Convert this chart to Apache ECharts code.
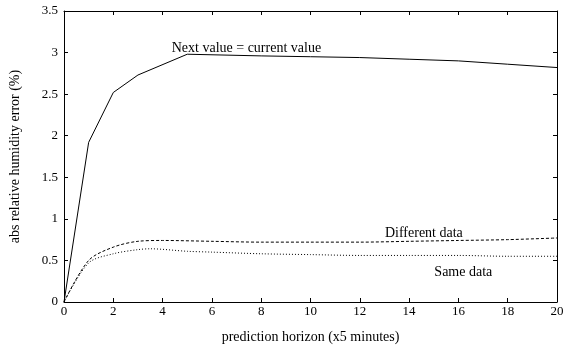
<!DOCTYPE html>
<html>
<head>
<meta charset="UTF-8">
<title>prediction horizon</title>
<style>
    body {margin: 0; background: #fff;}
    #chart {width: 573px; height: 349px;}
</style>
</head>
<body>
<div id="chart"></div>
<script src="https://cdn.jsdelivr.net/npm/echarts@6/dist/echarts.min.js"></script>
<script>
// horizon steps (x5 minutes) and the three error curves
const nextX   = [0, 1, 2, 3, 5, 8, 10, 12, 14, 16, 18, 20];
const nextY   = [0, 1.92, 2.52, 2.73, 2.98, 2.96, 2.95, 2.94, 2.92, 2.90, 2.86, 2.82];
const diffX   = [0, 1, 2, 3, 4, 6, 8, 10, 12, 14, 16, 18, 20];
const diffY   = [0, 0.50, 0.66, 0.73, 0.74, 0.73, 0.72, 0.72, 0.72, 0.73, 0.74, 0.75, 0.77];
const sameX   = [0, 1, 2, 3, 3.5, 5, 6, 8, 10, 12, 14, 16, 18, 20];
const sameY   = [0, 0.47, 0.58, 0.63, 0.64, 0.61, 0.60, 0.58, 0.57, 0.56, 0.56, 0.56, 0.55, 0.55];
const xTicks  = [0, 20, 2];
const yTicks  = [0, 3.5, 0.5];

const font = 'Liberation Serif';

function pairs(xs, ys) {
    return xs.map((x, i) => [x, ys[i]]);
}

function note(text, x, y, pos) {
    return {
        coord: [x, y],
        symbol: 'circle',
        symbolSize: 0,
        itemStyle: {color: 'transparent'},
        label: {show: true, formatter: text, position: pos, distance: 4,
                color: '#000', fontFamily: font, fontSize: 14}
    };
}

const chart = echarts.init(document.getElementById('chart'));

function axisCommon() {
    return {
        axisLine: {show: true, onZero: false, lineStyle: {color: '#000', width: 1}},
        axisTick: {show: true, inside: true, length: 4, lineStyle: {color: '#000'}},
        splitLine: {show: false}
    };
}

chart.setOption({
    animation: false,
    grid: {left: 64, right: 16, top: 11, bottom: 47, outerBoundsMode: 'none', containLabel: false},
    xAxis: [
        Object.assign({type: 'value', min: xTicks[0], max: xTicks[1], interval: xTicks[2],
            name: 'prediction horizon (x5 minutes)', nameLocation: 'middle', nameGap: 28,
            nameTextStyle: {color: '#000', fontFamily: font, fontSize: 14},
            axisLabel: {color: '#000', fontFamily: font, fontSize: 13, margin: 3}}, axisCommon()),
        Object.assign({type: 'value', position: 'top', min: xTicks[0], max: xTicks[1], interval: xTicks[2],
            axisLabel: {show: false}}, axisCommon())
    ],
    yAxis: [
        Object.assign({type: 'value', min: yTicks[0], max: yTicks[1], interval: yTicks[2],
            name: 'abs relative humidity error (%)', nameLocation: 'middle', nameGap: 42,
            nameTextStyle: {color: '#000', fontFamily: font, fontSize: 14},
            axisLabel: {color: '#000', fontFamily: font, fontSize: 13, margin: 6}}, axisCommon()),
        Object.assign({type: 'value', position: 'right', min: yTicks[0], max: yTicks[1], interval: yTicks[2],
            axisLabel: {show: false}}, axisCommon())
    ],
    series: [
        {
            type: 'line', data: pairs(nextX, nextY), symbol: 'none',
            lineStyle: {color: '#000', width: 1, type: 'solid'},
            markPoint: {data: [note('Next value = current value', 7.4, 2.92, 'top')]}
        },
        {
            type: 'line', data: pairs(diffX, diffY), symbol: 'none', smooth: 0.3,
            lineStyle: {color: '#000', width: 1, type: [3, 2]},
            markPoint: {data: [note('Different data', 14.6, 0.69, 'top')]}
        },
        {
            type: 'line', data: pairs(sameX, sameY), symbol: 'none', smooth: 0.3,
            lineStyle: {color: '#000', width: 1, type: [1, 2]},
            markPoint: {data: [note('Same data', 16.2, 0.49, 'bottom')]}
        }
    ]
});
</script>
</body>
</html>
